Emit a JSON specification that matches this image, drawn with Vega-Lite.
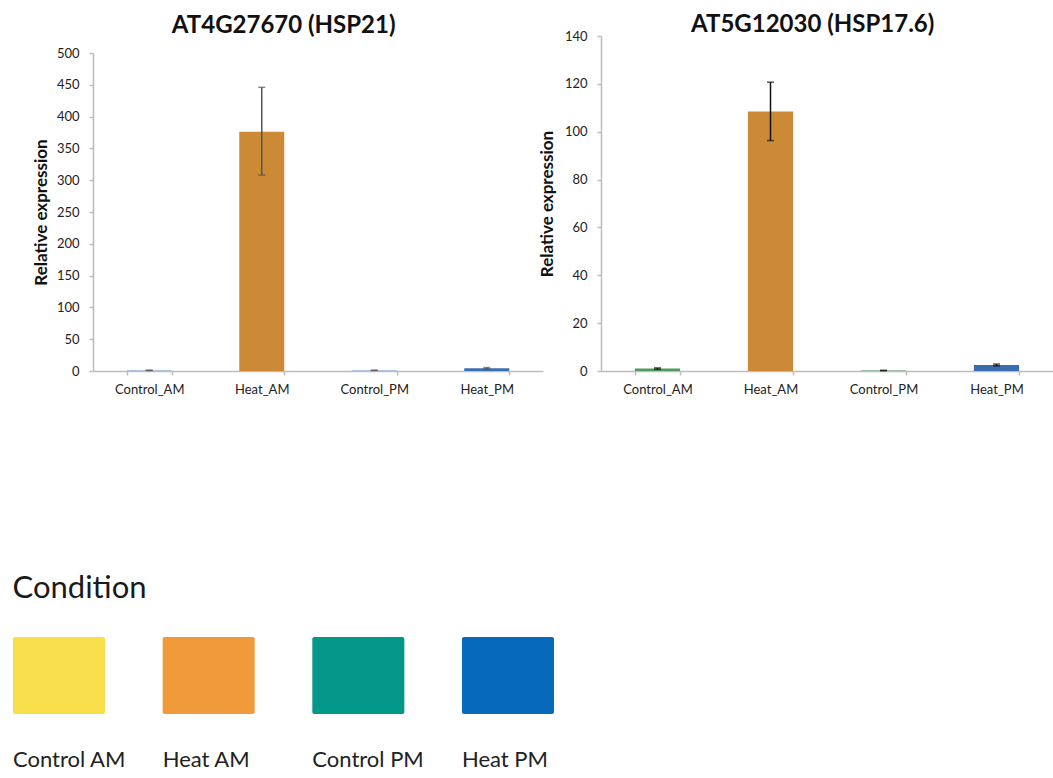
{
  "$schema": "https://vega.github.io/schema/vega-lite/v6.json",
  "background": "white",
  "padding": {"left": 12, "top": 12, "right": 4, "bottom": 4},
  "autosize": {"type": "pad"},
  "datasets": {
    "hsp21": [
      {"condition": "Control_AM", "expression": 1.0, "lower": 0.8, "upper": 1.2},
      {"condition": "Heat_AM", "expression": 376, "lower": 308, "upper": 446},
      {"condition": "Control_PM", "expression": 1.0, "lower": 0.9, "upper": 1.1},
      {"condition": "Heat_PM", "expression": 4.2, "lower": 3.2, "upper": 5.4}
    ],
    "hsp176": [
      {"condition": "Control_AM", "expression": 1.0, "lower": 0.7, "upper": 1.3},
      {"condition": "Heat_AM", "expression": 108.5, "lower": 96.3, "upper": 120.7},
      {"condition": "Control_PM", "expression": 0.2, "lower": 0.15, "upper": 0.25},
      {"condition": "Heat_PM", "expression": 2.5, "lower": 2.1, "upper": 2.9}
    ],
    "conditions": [
      {"label": "Control AM"},
      {"label": "Heat AM"},
      {"label": "Control PM"},
      {"label": "Heat PM"}
    ]
  },
  "config": {
    "font": "Lato",
    "view": {"stroke": null},
    "axis": {
      "grid": false,
      "labelFont": "Lato",
      "labelFontSize": 13,
      "labelColor": "#222222",
      "domainColor": "#bdbdbd",
      "domainWidth": 1.5,
      "tickColor": "#bdbdbd",
      "tickWidth": 1.5,
      "tickSize": 4,
      "titleFont": "Lato",
      "titleColor": "#111111"
    },
    "axisY": {
      "titleFontSize": 17,
      "titleFontWeight": "bold",
      "titlePadding": 6,
      "labelPadding": 10,
      "labelOverlap": false
    },
    "title": {"font": "Lato", "fontWeight": "bold", "fontSize": 24, "color": "#111111"}
  },
  "bounds": "flush",
  "spacing": 601,
  "vconcat": [
    {
      "spacing": -5,
      "hconcat": [
        {
          "width": 450,
          "height": 335,
          "title": {"text": "AT4G27670 (HSP21)", "anchor": "middle", "frame": "bounds", "baseline": "alphabetic", "offset": -21, "dx": -4},
          "data": {"name": "hsp21"},
          "encoding": {
            "x": {
              "field": "condition", "type": "nominal",
              "sort": ["Control_AM", "Heat_AM", "Control_PM", "Heat_PM"],
              "scale": {"paddingInner": 0.6, "paddingOuter": 0.3},
              "axis": {"title": null, "labelAngle": 0, "tickBand": "extent", "labelPadding": 8}
            }
          },
          "layer": [
            {
              "mark": {"type": "bar"},
              "encoding": {
                "y": {
                  "field": "expression", "type": "quantitative",
                  "scale": {"domain": [0, 500], "nice": false, "range": [335, 17]},
                  "axis": {"title": "Relative expression", "titleFontSize": 17, "values": [0, 50, 100, 150, 200, 250, 300, 350, 400, 450, 500]}
                },
                "color": {
                  "field": "condition", "type": "nominal",
                  "scale": {"domain": ["Control_AM", "Heat_AM", "Control_PM", "Heat_PM"], "range": ["#92b4dc", "#cd8a36", "#92b4dc", "#3a6fb3"]},
                  "legend": null
                }
              }
            },
            {
              "mark": {"type": "rule", "color": "#555555", "strokeWidth": 1.5},
              "encoding": {
                "y": {"field": "lower", "type": "quantitative", "axis": {"title": "Relative expression", "titleFontSize": 17, "values": [0, 50, 100, 150, 200, 250, 300, 350, 400, 450, 500]}},
                "y2": {"field": "upper"}
              }
            },
            {
              "mark": {"type": "tick", "color": "#555555", "size": 7, "thickness": 1.5},
              "encoding": {"y": {"field": "lower", "type": "quantitative", "axis": {"title": "Relative expression", "titleFontSize": 17, "values": [0, 50, 100, 150, 200, 250, 300, 350, 400, 450, 500]}}}
            },
            {
              "mark": {"type": "tick", "color": "#555555", "size": 7, "thickness": 1.5},
              "encoding": {"y": {"field": "upper", "type": "quantitative", "axis": {"title": "Relative expression", "titleFontSize": 17, "values": [0, 50, 100, 150, 200, 250, 300, 350, 400, 450, 500]}}}
            }
          ]
        },
        {
          "width": 452,
          "height": 335,
          "title": {"text": "AT5G12030 (HSP17.6)", "anchor": "middle", "frame": "bounds", "baseline": "alphabetic", "offset": -25.5, "dx": 17},
          "data": {"name": "hsp176"},
          "encoding": {
            "x": {
              "field": "condition", "type": "nominal",
              "sort": ["Control_AM", "Heat_AM", "Control_PM", "Heat_PM"],
              "scale": {"paddingInner": 0.6, "paddingOuter": 0.3},
              "axis": {"title": null, "labelAngle": 0, "tickBand": "extent", "labelPadding": 8}
            }
          },
          "layer": [
            {
              "mark": {"type": "bar"},
              "encoding": {
                "y": {
                  "field": "expression", "type": "quantitative",
                  "scale": {"domain": [0, 140], "nice": false},
                  "axis": {"title": "Relative expression", "titleFontSize": 17, "titlePadding": 8, "values": [0, 20, 40, 60, 80, 100, 120, 140]}
                },
                "color": {
                  "field": "condition", "type": "nominal",
                  "scale": {"domain": ["Control_AM", "Heat_AM", "Control_PM", "Heat_PM"], "range": ["#4f9a5e", "#cd8a36", "#4f9a5e", "#3a6db0"]},
                  "legend": null
                }
              }
            },
            {
              "mark": {"type": "rule", "color": "#111111", "strokeWidth": 1.5},
              "encoding": {
                "y": {"field": "lower", "type": "quantitative", "axis": {"title": "Relative expression", "titleFontSize": 17, "titlePadding": 8, "values": [0, 20, 40, 60, 80, 100, 120, 140]}},
                "y2": {"field": "upper"}
              }
            },
            {
              "mark": {"type": "tick", "color": "#111111", "size": 7, "thickness": 1.5},
              "encoding": {"y": {"field": "lower", "type": "quantitative", "axis": {"title": "Relative expression", "titleFontSize": 17, "titlePadding": 8, "values": [0, 20, 40, 60, 80, 100, 120, 140]}}}
            },
            {
              "mark": {"type": "tick", "color": "#111111", "size": 7, "thickness": 1.5},
              "encoding": {"y": {"field": "upper", "type": "quantitative", "axis": {"title": "Relative expression", "titleFontSize": 17, "titlePadding": 8, "values": [0, 20, 40, 60, 80, 100, 120, 140]}}}
            }
          ]
        }
      ],
      "resolve": {"scale": {"color": "independent", "y": "independent", "x": "independent"}}
    },
    {
      "width": 541,
      "height": 77,
      "title": {"text": "Condition", "anchor": "start", "frame": "bounds", "fontSize": 31, "fontWeight": "normal", "baseline": "alphabetic", "offset": 8.5, "color": "#1a1a1a"},
      "data": {"name": "conditions"},
      "mark": {"type": "rect", "cornerRadius": 2},
      "encoding": {
        "x": {
          "field": "label", "type": "nominal", "sort": null,
          "scale": {"range": [-80, 461], "paddingInner": 0.385, "paddingOuter": 0},
          "axis": {
            "title": null, "domain": false, "ticks": false, "labelAngle": 0,
            "labelFontSize": 22, "labelColor": "#222222", "labelPadding": 35,
            "labelAlign": "left", "labelOffset": -46
          }
        },
        "color": {
          "field": "label", "type": "nominal", "sort": null,
          "scale": {"domain": ["Control AM", "Heat AM", "Control PM", "Heat PM"], "range": ["#f8de4b", "#f09a3a", "#03978a", "#0769bc"]},
          "legend": null
        }
      }
    }
  ]
}
